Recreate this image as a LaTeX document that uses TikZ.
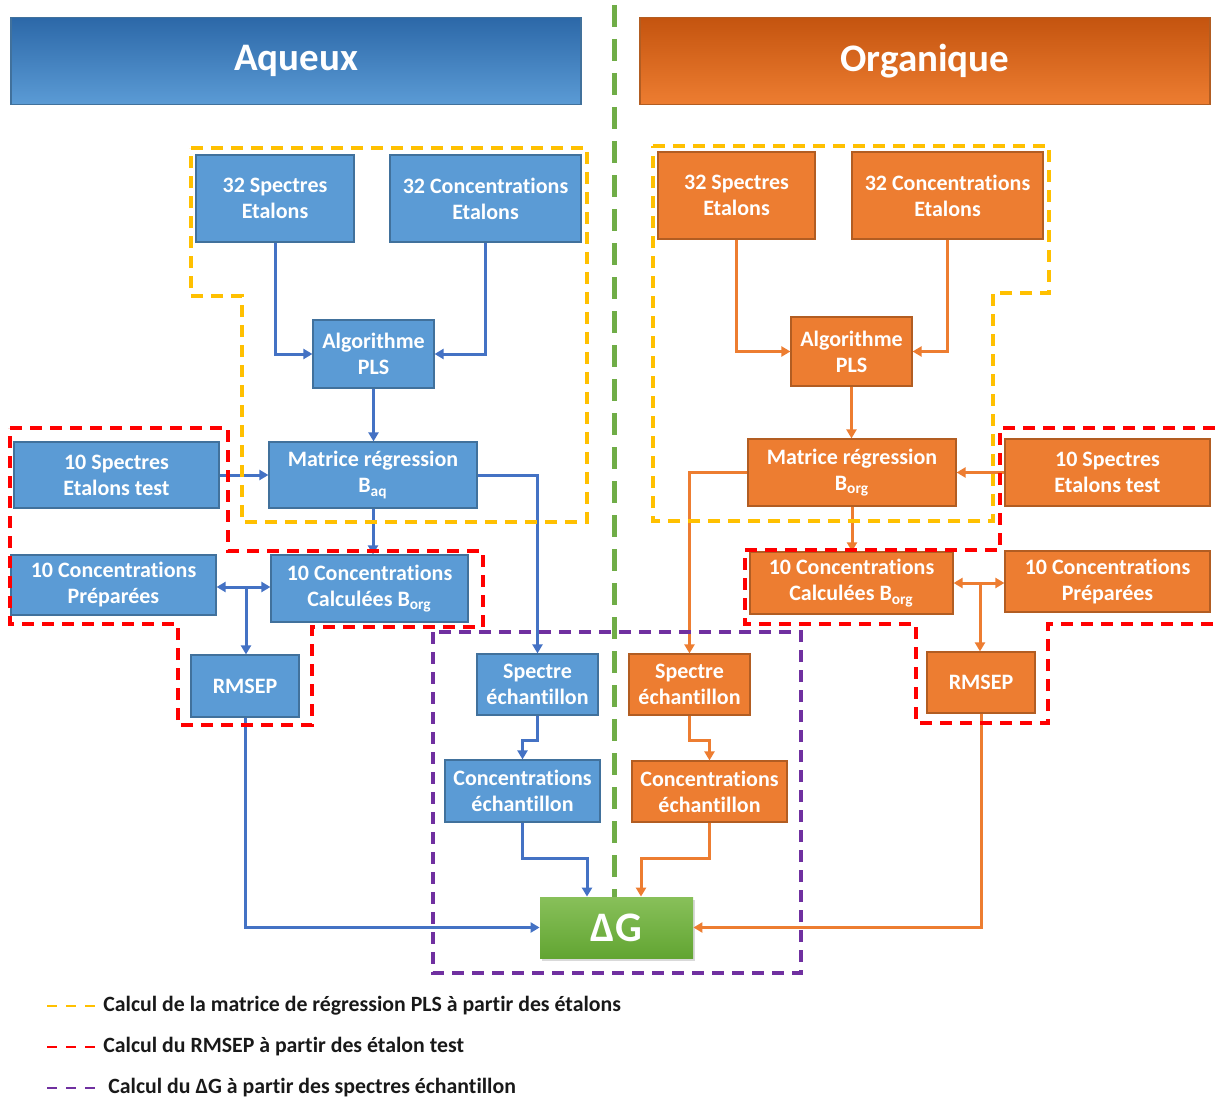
\documentclass[tikz,border=0pt]{standalone}
\usepackage{fontspec}
\setmainfont{Carlito}[Ligatures=CommonOff]
\usetikzlibrary{arrows.meta,shadows}

\definecolor{aqfill}{HTML}{5B9BD5}
\definecolor{aqline}{HTML}{41719C}
\definecolor{aqtop}{HTML}{2C68A8}
\definecolor{aqarrow}{HTML}{4472C4}
\definecolor{orfill}{HTML}{ED7D31}
\definecolor{orline}{HTML}{B25D22}
\definecolor{ortop}{HTML}{C4540F}
\definecolor{dgtop}{HTML}{88C05A}
\definecolor{dgbot}{HTML}{62A532}
\definecolor{zoneyel}{HTML}{FFC000}
\definecolor{zonered}{HTML}{FF0000}
\definecolor{zonepur}{HTML}{7030A0}
\definecolor{sepgreen}{HTML}{70AD47}

\begin{document}
\begin{tikzpicture}[
  x=0.5pt, y=-0.5pt,
  font=\fontsize{11}{13}\selectfont\bfseries,
  >={Triangle[width=5pt,length=4.5pt]},
  aflow/.style={->, line width=1.5pt, draw=aqarrow},
  oflow/.style={->, line width=1.5pt, draw=orfill},
  aqbox/.style={
    draw=aqline,
    fill=aqfill,
    text=white,
    line width=0.6pt,
    inner sep=0pt,
    align=center
  },
  orbox/.style={
    draw=orline,
    fill=orfill,
    text=white,
    line width=0.6pt,
    inner sep=0pt,
    align=center
  },
  headbox/.style={
    text=white,
    line width=0.6pt,
    minimum width=285pt,
    minimum height=43.5pt,
    font=\fontsize{19.5}{22}\selectfont\bfseries
  },
  zone/.style={line width=1.6pt, dash pattern=on 6pt off 4pt},
  legtext/.style={anchor=west, inner sep=0pt, text=black!90,
    font=\fontsize{10.9}{12}\selectfont\bfseries}
]
\useasboundingbox (0,0) rectangle (1215,1097);

% Separator between the two phases.
\draw[sepgreen, line width=2.5pt, dash pattern=on 11pt off 6pt] (614,5) -- (614,897);

% Aqueous phase.
\node[headbox, top color=aqtop, bottom color=aqfill, draw=aqline] (aqhead) at (296,61) {Aqueux};
\node[aqbox, minimum width=79pt, minimum height=43.5pt] (aspec) at (275,198.5) {32 Spectres\\Etalons};
\node[aqbox, minimum width=95.5pt, minimum height=43.5pt] (aconc) at (485.5,198.5) {32 Concentrations\\Etalons};
\node[aqbox, minimum width=60.5pt, minimum height=34pt] (apls) at (373.5,354) {Algorithme\\PLS};
\node[aqbox, minimum width=104pt, minimum height=33pt] (amat) at (373,475) {Matrice régression\\B\textsubscript{aq}};
\node[aqbox, minimum width=102.5pt, minimum height=33pt] (atest) at (116.5,475) {10 Spectres\\Etalons test};
\node[aqbox, minimum width=102.5pt, minimum height=30pt] (aprep) at (113.5,585) {10 Concentrations\\Préparées};
\node[aqbox, minimum width=98.5pt, minimum height=33.5pt] (acalc) at (369.5,588.5) {10 Concentrations\\Calculées B\textsubscript{org}};
\node[aqbox, minimum width=54pt, minimum height=31pt] (armsep) at (245,686) {RMSEP};
\node[aqbox, minimum width=60.5pt, minimum height=30.5pt] (aspl) at (537.5,684.5) {Spectre\\échantillon};
\node[aqbox, minimum width=77.5pt, minimum height=31pt] (acech) at (522.5,791) {Concentrations\\échantillon};

% Organic phase.
\node[headbox, top color=ortop, bottom color=orfill, draw=orline] (orhead) at (925,61) {Organique};
\node[orbox, minimum width=78.5pt, minimum height=43.5pt] (ospec) at (736.5,195.5) {32 Spectres\\Etalons};
\node[orbox, minimum width=95.5pt, minimum height=43.5pt] (oconc) at (947.5,195.5) {32 Concentrations\\Etalons};
\node[orbox, minimum width=60.5pt, minimum height=34.5pt] (opls) at (851.5,351.5) {Algorithme\\PLS};
\node[orbox, minimum width=104pt, minimum height=33.5pt] (omat) at (852,472.5) {Matrice régression\\B\textsubscript{org}};
\node[orbox, minimum width=102.5pt, minimum height=33.5pt] (otest) at (1107.5,472.5) {10 Spectres\\Etalons test};
\node[orbox, minimum width=101.5pt, minimum height=31pt] (ocalc) at (851.5,583) {10 Concentrations\\Calculées B\textsubscript{org}};
\node[orbox, minimum width=102.5pt, minimum height=30.5pt] (oprep) at (1107.5,581.5) {10 Concentrations\\Préparées};
\node[orbox, minimum width=54pt, minimum height=30.5pt] (ormsep) at (981,682.5) {RMSEP};
\node[orbox, minimum width=60.5pt, minimum height=30.5pt] (ospl) at (689.5,684.5) {Spectre\\échantillon};
\node[orbox, minimum width=77.5pt, minimum height=30.5pt] (ocech) at (709.5,791.5) {Concentrations\\échantillon};

% Free energy result.
\node[top color=dgtop, bottom color=dgbot, text=white,
  minimum width=76.5pt, minimum height=30.5pt,
  font=\fontsize{21}{24}\selectfont\bfseries,
  drop shadow={opacity=0.3, shadow xshift=1pt, shadow yshift=-1.5pt}] (dg) at (616.5,927.5) {ΔG};

% Aqueous connectors.
\coordinate (ajct) at (246,587);
\draw[aflow] (aspec.south) |- (apls.west);
\draw[aflow] (aconc.south) |- (apls.east);
\draw[aflow] (apls.south) -- (apls.south |- amat.north);
\draw[aflow] (atest.east) -- (amat.west);
\draw[aflow] (amat.south) -- (amat.south |- acalc.north);
\draw[aflow] (amat.east) -| (aspl.north);
\draw[aflow, <->] (aprep.east |- ajct) -- (acalc.west |- ajct);
\draw[aflow] (ajct) -- (ajct |- armsep.north);
\draw[aflow] (aspl.south) -- ++(0,25) -| (acech.north);
\draw[aflow] (acech.south) -- ++(0,36) -| ([xshift=-14.75pt]dg.north);
\draw[aflow] (armsep.south) |- (dg.west);

% Organic connectors.
\coordinate (ojct) at (980,583);
\draw[oflow] (ospec.south) |- (opls.west);
\draw[oflow] (oconc.south) |- (opls.east);
\draw[oflow] (opls.south) -- (opls.south |- omat.north);
\draw[oflow] (otest.west) -- (omat.east);
\draw[oflow] (omat.south) -- (omat.south |- ocalc.north);
\draw[oflow] (omat.west) -| (ospl.north);
\draw[oflow, <->] (ocalc.east |- ojct) -- (oprep.west |- ojct);
\draw[oflow] (ojct) -- (ojct |- ormsep.north);
\draw[oflow] (ospl.south) -- ++(0,25) -| (ocech.north);
\draw[oflow] (ocech.south) -- ++(0,36) -| ([xshift=12.25pt]dg.north);
\draw[oflow] (ormsep.south) |- (dg.east);

% Dashed computation zones.
\draw[zone, draw=zoneyel] (191,148) -- (587,148) -- (587,522) -- (242,522) -- (242,296) -- (191,296) -- cycle;
\draw[zone, draw=zoneyel] (653,146) -- (1049,146) -- (1049,293) -- (993,293) -- (993,521) -- (653,521) -- cycle;
\draw[zone, draw=zonered] (10,428) -- (228,428) -- (228,551) -- (483,551) -- (483,627) -- (312,627)
  -- (312,725) -- (178,725) -- (178,624) -- (10,624) -- cycle;
\draw[zone, draw=zonered] (1215,428) -- (1000,428) -- (1000,550) -- (745,550) -- (745,624) -- (916,624)
  -- (916,723) -- (1048,723) -- (1048,624) -- (1215,624);
\draw[zone, draw=zonepur] (433,632) rectangle (801,973);

% Legend.
\node[legtext] (lyel) at (103,1006) {Calcul de la matrice de régression PLS à partir des étalons};
\node[legtext] (lred) at (103,1047) {Calcul du RMSEP à partir des étalon test};
\node[legtext] (lpur) at (108,1088) {Calcul du ΔG à partir des spectres échantillon};
\draw[draw=zoneyel, line width=1.1pt, dash pattern=on 5pt off 4.5pt] ([xshift=-28pt]lyel.west) -- ([xshift=-4pt]lyel.west);
\draw[draw=zonered, line width=1.1pt, dash pattern=on 5pt off 4.5pt] ([xshift=-28pt]lred.west) -- ([xshift=-4pt]lred.west);
\draw[draw=zonepur, line width=1.1pt, dash pattern=on 5pt off 4.5pt] ([xshift=-30.5pt]lpur.west) -- ([xshift=-6.5pt]lpur.west);

\end{tikzpicture}
\end{document}
